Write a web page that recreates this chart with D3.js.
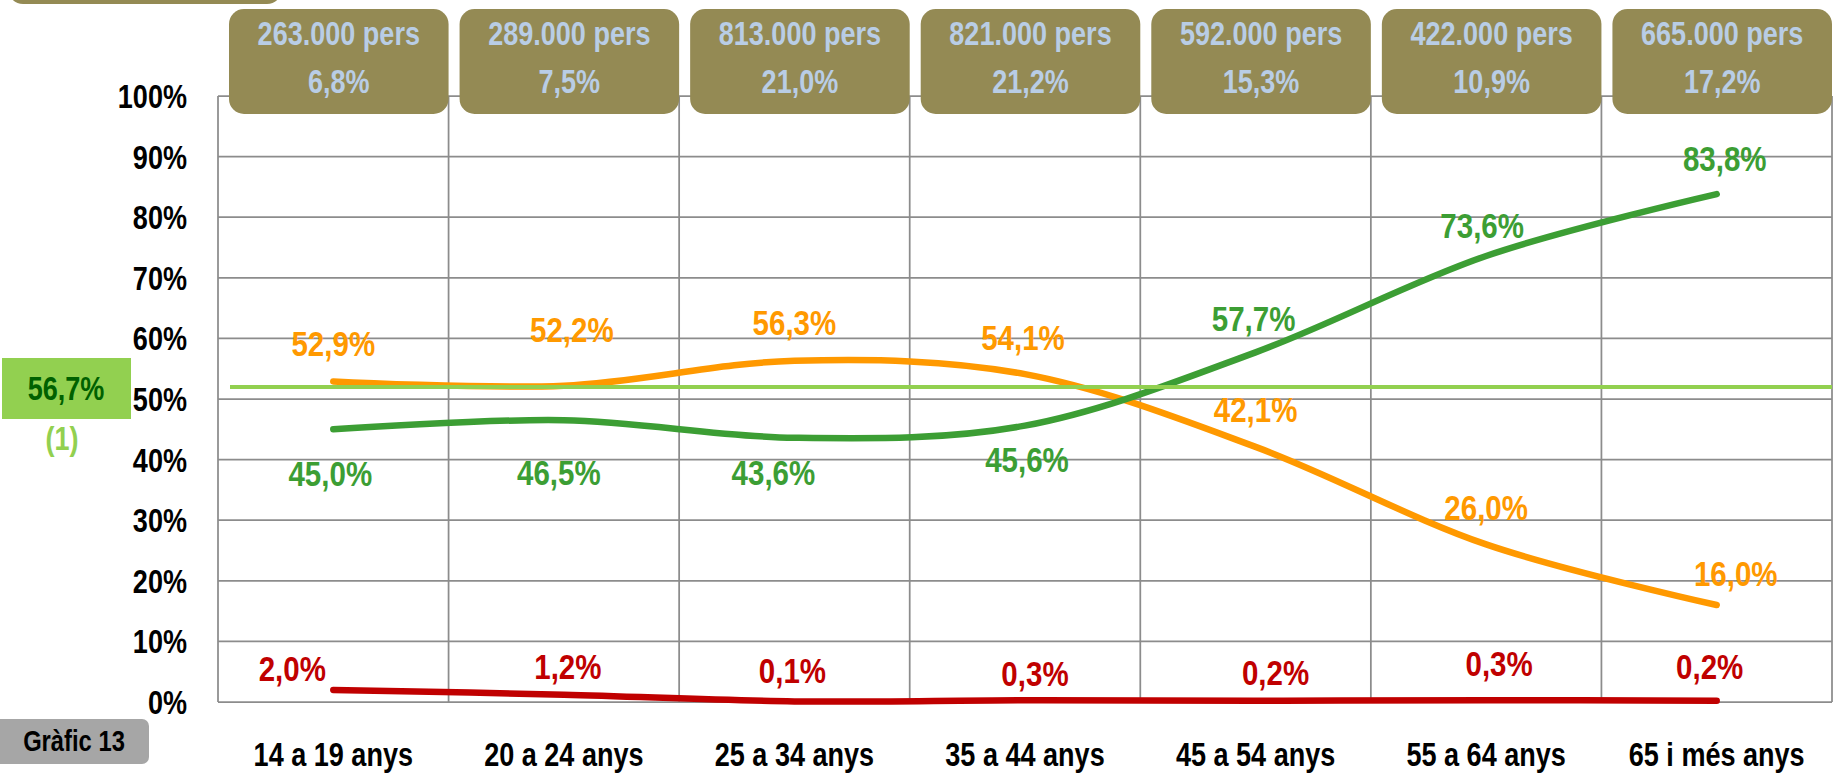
<!DOCTYPE html>
<html>
<head>
<meta charset="utf-8">
<script src="https://cdn.jsdelivr.net/npm/d3@7/dist/d3.min.js"></script>
<style>
  html, body { margin: 0; padding: 0; background: #ffffff; }
  svg { display: block; }
  text { font-family: "Liberation Sans Narrow", "Arial Narrow", "Liberation Sans", Arial, sans-serif; font-weight: bold; }
</style>
</head>
<body>
<svg id="chart" width="1835" height="779"></svg>
<script>
// ---------- DATA ----------
const categories = ["14 a 19 anys", "20 a 24 anys", "25 a 34 anys", "35 a 44 anys", "45 a 54 anys", "55 a 64 anys", "65 i més anys"];
const populationLabels = ["263.000 pers", "289.000 pers", "813.000 pers", "821.000 pers", "592.000 pers", "422.000 pers", "665.000 pers"];
const populationShares = ["6,8%", "7,5%", "21,0%", "21,2%", "15,3%", "10,9%", "17,2%"];
const greenValues  = [45.0, 46.5, 43.6, 45.6, 57.7, 73.6, 83.8];
const orangeValues = [52.9, 52.2, 56.3, 54.1, 42.1, 26.0, 16.0];
const redValues    = [2.0, 1.2, 0.1, 0.3, 0.2, 0.3, 0.2];
const yTicks = [0, 10, 20, 30, 40, 50, 60, 70, 80, 90, 100];
const referenceValue = 52.0;
const referenceLabel = "56,7%";
const referenceNote = "(1)";
const chartTag = "Gràfic 13";

// ---------- LAYOUT (label offsets relative to point, px) ----------
const orangeLabelOffsets = [[0,-38],[8,-56],[0,-38],[-2,-37],[0,-37],[0,-37],[19,-32]];
const greenLabelOffsets  = [[-3,44],[-5,52],[-21,35],[2,34],[-2,-34],[-4,-31],[8,-36]];
const redLabelOffsets    = [[-41,-21],[4,-28],[-2,-31],[10,-27],[20,-28],[13,-37],[-7,-34]];

const NARROW = 0.82; // emulate a narrow typeface
const plot = { left: 218, right: 1832, top: 96, bottom: 702 };
const colors = {
  green: "#3c9e34", orange: "#ff9900", red: "#c00000",
  ref: "#92d050", refText: "#006100", grid: "#8c8c8c",
  box: "#948a54", boxText: "#b9cde5", tag: "#a6a6a6"
};

const svg = d3.select("#chart");

const x = d3.scaleBand().domain(categories).range([plot.left, plot.right]).paddingInner(0).paddingOuter(0);
const cx = c => x(c) + x.bandwidth() / 2;
const y = d3.scaleLinear().domain([0, 100]).range([plot.bottom, plot.top]);
const fmt = v => d3.format(".1f")(v).replace(".", ",") + "%";

// text helper: places text at (tx, ty) with horizontal condensing
function narrowText(g, tx, ty, str, size, fill, anchor) {
  return g.append("text")
    .attr("transform", `translate(${tx},${ty}) scale(${NARROW},1)`)
    .attr("dy", "0.35em").attr("text-anchor", anchor || "middle")
    .attr("font-size", size).attr("fill", fill).text(str);
}

// grid: horizontal
svg.append("g").selectAll("line").data(yTicks).join("line")
  .attr("x1", plot.left).attr("x2", plot.right)
  .attr("y1", d => y(d)).attr("y2", d => y(d))
  .attr("stroke", colors.grid).attr("stroke-width", 1.75);
// grid: vertical
const bounds = categories.map(c => x(c)).concat([plot.right]);
svg.append("g").selectAll("line").data(bounds).join("line")
  .attr("x1", d => d).attr("x2", d => d)
  .attr("y1", plot.top).attr("y2", plot.bottom)
  .attr("stroke", colors.grid).attr("stroke-width", 1.75);

// y axis labels
const yAxis = d3.axisLeft(y).tickValues(yTicks).tickFormat(d => d + "%").tickSize(0).tickPadding(0);
const gy = svg.append("g").attr("transform", `translate(${plot.left},0)`).call(yAxis);
gy.select(".domain").remove();
gy.selectAll("text").attr("font-size", 33).attr("fill", "#000").attr("font-family", null)
  .attr("x", null).attr("dy", "0.35em")
  .attr("transform", `translate(-31,0) scale(${NARROW},1)`);

// x axis labels
const xAxis = d3.axisBottom(x).tickSize(0).tickPadding(0);
const gx = svg.append("g").attr("transform", `translate(0,${plot.bottom})`).call(xAxis);
gx.select(".domain").remove();
gx.selectAll("text").attr("font-size", 33).attr("fill", "#000").attr("font-family", null)
  .attr("y", null).attr("dy", "0.35em")
  .attr("transform", `translate(0,52) scale(${NARROW},1)`);

// series lines
const line = d3.line().x((d, i) => cx(categories[i])).y(d => y(d)).curve(d3.curveCardinal.tension(0));
const series = [
  { values: redValues, color: colors.red, offsets: redLabelOffsets },
  { values: orangeValues, color: colors.orange, offsets: orangeLabelOffsets },
  { values: greenValues, color: colors.green, offsets: greenLabelOffsets }
];
series.forEach(s => {
  svg.append("path").datum(s.values).attr("d", line)
    .attr("fill", "none").attr("stroke", s.color).attr("stroke-width", 6.5)
    .attr("stroke-linecap", "round").attr("stroke-linejoin", "round");
});

// reference line
svg.append("line")
  .attr("x1", plot.left + 12).attr("x2", plot.right)
  .attr("y1", y(referenceValue)).attr("y2", y(referenceValue))
  .attr("stroke", colors.ref).attr("stroke-width", 4);

// data labels
series.forEach(s => {
  const g = svg.append("g");
  s.values.forEach((v, i) => {
    narrowText(g, cx(categories[i]) + s.offsets[i][0], y(v) + s.offsets[i][1], fmt(v), 36, s.color);
  });
});

// header boxes
categories.forEach((c, i) => {
  const g = svg.append("g");
  const bx = x(c) + 11, bw = x.bandwidth() - 11;
  g.append("rect").attr("x", bx).attr("y", 9).attr("width", bw).attr("height", 105)
    .attr("rx", 15).attr("ry", 15).attr("fill", colors.box);
  narrowText(g, bx + bw / 2, 33, populationLabels[i], 33, colors.boxText);
  narrowText(g, bx + bw / 2, 81, populationShares[i], 33, colors.boxText);
});

// partially visible top-left box
svg.append("rect").attr("x", 8).attr("y", -40).attr("width", 274).attr("height", 44)
  .attr("rx", 15).attr("ry", 15).attr("fill", colors.box);

// reference label box
svg.append("rect").attr("x", 2).attr("y", 358).attr("width", 129).attr("height", 61).attr("fill", colors.ref);
narrowText(svg, 66, 388, referenceLabel, 33, colors.refText);
narrowText(svg, 62, 438, referenceNote, 33, colors.ref);

// chart tag
svg.append("rect").attr("x", -10).attr("y", 719).attr("width", 159).attr("height", 45)
  .attr("rx", 7).attr("ry", 7).attr("fill", colors.tag);
narrowText(svg, 74, 741, chartTag, 29, "#000");
</script>
</body>
</html>
